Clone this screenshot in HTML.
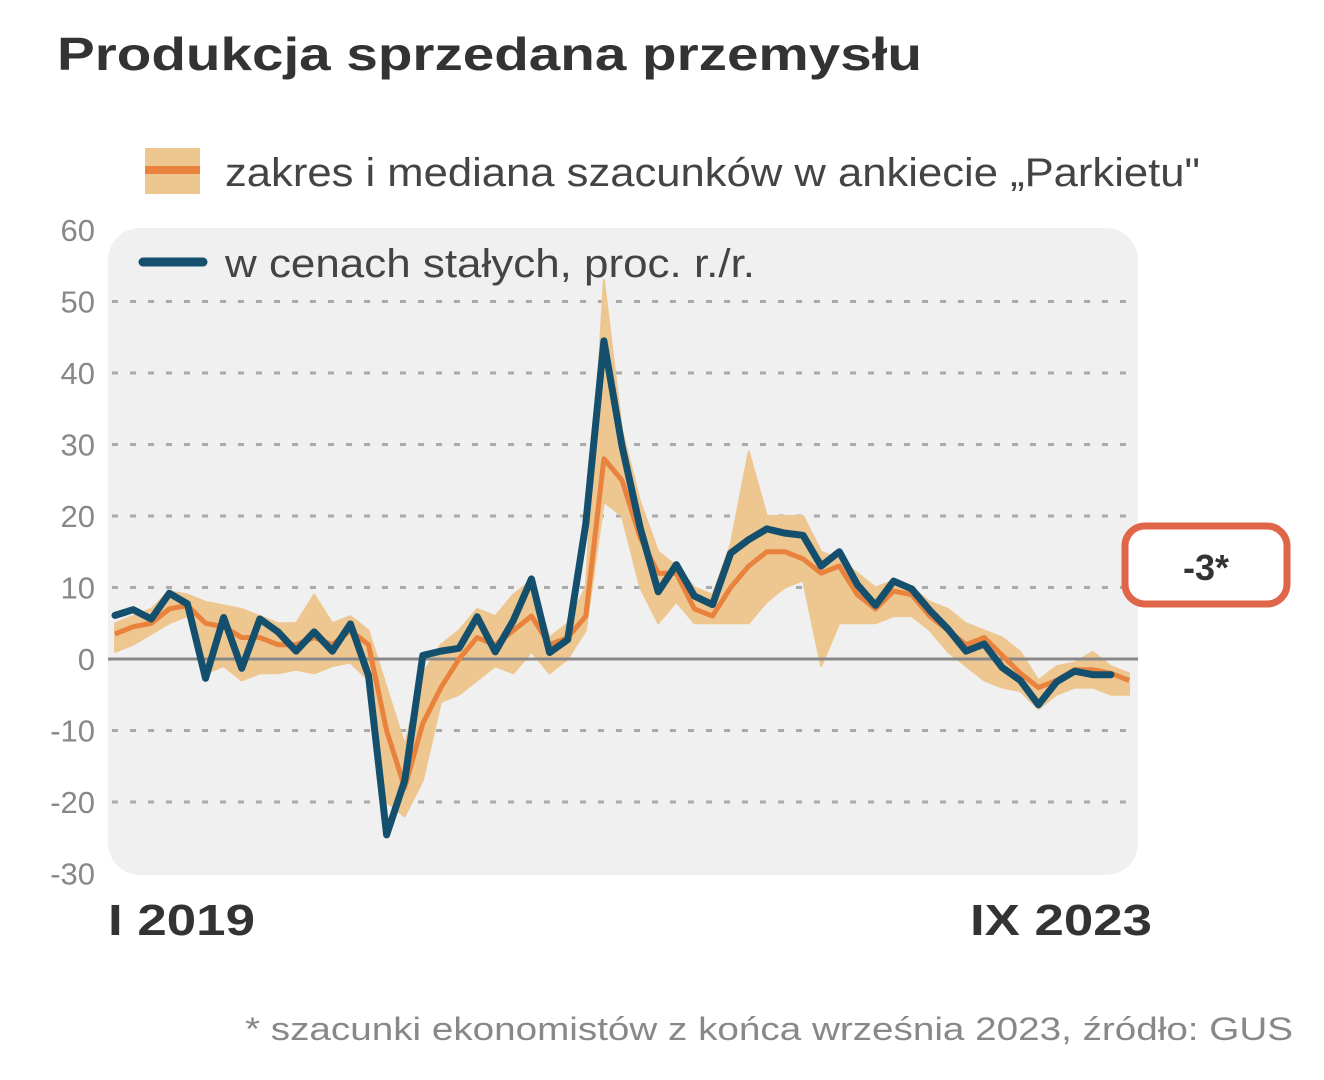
<!DOCTYPE html>
<html><head><meta charset="utf-8"><style>
html,body{margin:0;padding:0;background:#fff;}
svg{display:block;font-family:"Liberation Sans Narrow","Liberation Sans",sans-serif;}
</style></head><body>
<svg id="chart" width="1324" height="1080" viewBox="0 0 1324 1080">
<text x="57" y="70" font-size="46" font-weight="bold" fill="#333" font-family="Liberation Sans, sans-serif" textLength="865" lengthAdjust="spacingAndGlyphs">Produkcja sprzedana przemysłu</text>
<rect x="108" y="228" width="1030" height="647" rx="32" fill="#f0f0f0"/>
<g id="grid"></g>
<g id="yticks"></g>
<g id="marks"></g>
<g>
<rect x="145" y="148" width="55" height="46" fill="#edc690"/>
<rect x="145" y="166" width="55" height="8" fill="#e8823c"/>
<text x="225" y="186" font-size="40" fill="#444" textLength="975" lengthAdjust="spacingAndGlyphs">zakres i mediana szacunków w ankiecie „Parkietu"</text>
</g>
<g>
<line x1="143" y1="262" x2="203" y2="262" stroke="#14506e" stroke-width="9" stroke-linecap="round"/>
<text x="225" y="277" font-size="40" fill="#444" textLength="530" lengthAdjust="spacingAndGlyphs">w cenach stałych, proc. r./r.</text>
</g>
<text x="108" y="935" font-size="44" font-weight="bold" fill="#333" font-family="Liberation Sans, sans-serif" textLength="147" lengthAdjust="spacingAndGlyphs">I 2019</text>
<text x="970" y="935" font-size="44" font-weight="bold" fill="#333" font-family="Liberation Sans, sans-serif" textLength="182" lengthAdjust="spacingAndGlyphs">IX 2023</text>
<g>
<rect x="1125" y="526" width="162" height="78" rx="20" fill="#fff" stroke="#e0664a" stroke-width="7"/>
<text x="1206" y="580" font-size="36" font-weight="bold" fill="#333" text-anchor="middle" font-family="Liberation Sans, sans-serif">-3*</text>
</g>
<text x="1293" y="1040" font-size="32" fill="#888" text-anchor="end" textLength="1048" lengthAdjust="spacingAndGlyphs">* szacunki ekonomistów z końca września 2023, źródło: GUS</text>
</svg>
<script>
const yTicks=[60,50,40,30,20,10,0,-10,-20,-30];
const actual=[6.1,6.9,5.6,9.2,7.7,-2.7,5.8,-1.3,5.6,3.8,1.1,3.8,
1.1,4.9,-2.3,-24.6,-17.0,0.5,1.1,1.5,5.9,1.0,5.4,11.2,
0.9,2.7,18.9,44.5,29.8,18.4,9.4,13.2,8.8,7.6,14.8,16.7,
18.2,17.6,17.3,13.0,15.0,10.4,7.5,10.9,9.8,6.8,4.2,1.1,
2.1,-1.2,-3.0,-6.4,-3.2,-1.7,-2.2,-2.2];
const median=[3.5,4.5,5,7,7.5,5,4.5,3,3,2,2,3,
2,4,2,-10,-18,-9,-4,0,3,2,4,6,
2,3,6,28,25,17,12,12,7,6,10,13,
15,15,14,12,13,9,7,9.5,9,6,4,2,
3,0.5,-2,-4,-3,-1.5,-1.5,-2,-3];
const low=[1,2,3.5,5,6,-2,-1,-3,-2,-2,-1.5,-2,
-1,-0.5,-3,-20,-22,-17,-6,-5,-3,-1,-2,1,
-2,0,4,22,20,10,5,8,5,5,5,5,
8,10,11,-1,5,5,5,6,6,4,1,-1,
-3,-4,-4.5,-7,-5,-4,-4,-5,-5];
const high=[5,6,7,9.5,9,8,7.5,7,6,5,5,9,
5,6,4,-4,-12,-2,2,4,7,6,9,11,
3,5,10,53,32,22,15,13,10,9,16,29,
20,20,20,15,14,12,10,11,10,8,7,5,
4,3,1,-3,-1,-0.5,1,-1,-2];
const NS='http://www.w3.org/2000/svg';
const x0=115,x1=1129,nPts=57;
function X(i){return x0+i*(x1-x0)/(nPts-1);}
function Y(v){return 659-v*7.15;}
function mk(t,a,p){const e=document.createElementNS(NS,t);for(const k in a)e.setAttribute(k,a[k]);p.appendChild(e);return e;}
const grid=document.getElementById('grid'),yt=document.getElementById('yticks'),marks=document.getElementById('marks');
yTicks.forEach(v=>{
  if(v!==0&&v!==60&&v!==-30){
    const g=mk('line',{x1:112,x2:1138,y1:Y(v),y2:Y(v),stroke:'#aaa','stroke-width':3,'stroke-dasharray':'6 12'},grid);
    
    
  }
  const t=mk('text',{x:95,y:Y(v)+11,'font-size':31,fill:'#888','text-anchor':'end'},yt);
  t.textContent=v;
  
  
});
let pts=[];
for(let i=0;i<high.length;i++)pts.push(X(i)+','+Y(high[i]));
for(let i=low.length-1;i>=0;i--)pts.push(X(i)+','+Y(low[i]));
const band=mk('polygon',{points:pts.join(' '),fill:'#edc690','stroke':'#edc690','stroke-width':2,'stroke-linejoin':'round'},marks);


const zl=mk('line',{x1:108,x2:1138,y1:Y(0),y2:Y(0),stroke:'#888','stroke-width':3},marks);


const med=mk('polyline',{points:median.map((v,i)=>X(i)+','+Y(v)).join(' '),fill:'none',stroke:'#e8823c','stroke-width':5,'stroke-linejoin':'round'},marks);


const act=mk('polyline',{points:actual.map((v,i)=>X(i)+','+Y(v)).join(' '),fill:'none',stroke:'#14506e','stroke-width':7,'stroke-linejoin':'round','stroke-linecap':'round'},marks);


</script>
</body></html>
